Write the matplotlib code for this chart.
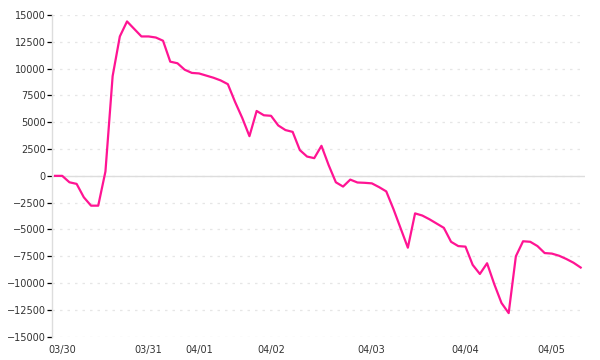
"""Line chart of a running value from 03/30 to 04/05."""

import matplotlib

matplotlib.use("Agg")
import matplotlib.pyplot as plt
import matplotlib.transforms as mtransforms
import numpy as np


# Values, one per sample
values = [
    0, 0, -600, -750, -2000, -2780, -2780, 400, 9300, 13000,
    14400, 13700, 13000, 13000, 12900, 12600, 10650, 10500, 9900, 9600,
    9550, 9350, 9150, 8900, 8550, 6900, 5400, 3700, 6050, 5650,
    5600, 4700, 4270, 4100, 2400, 1800, 1650, 2800, 1000, -600,
    -1000, -350, -620, -650, -700, -1050, -1450, -3100, -4900, -6700,
    -3500, -3700, -4050, -4450, -4850, -6150, -6550, -6600, -8300, -9150,
    -8150, -10100, -11850, -12800, -7500, -6100, -6150, -6550, -7200, -7250,
    -7450, -7750, -8100, -8550,
]

# Sample index where each day starts, and its label
day_index = [0, 12, 19, 29, 43, 56, 68]
day_labels = ["03/30", "03/31", "04/01", "04/02", "04/03", "04/04", "04/05"]

y_ticks = list(range(-15000, 15001, 2500))

LINE_COLOR = "#ff1493"
GRID_COLOR = "#e6e6e6"
AXIS_COLOR = "#dddddd"
TEXT_COLOR = "#333333"

fig = plt.figure(figsize=(6, 3.6), dpi=100)
ax = fig.add_axes([52 / 600, 23.3 / 360, 533 / 600, 321.7 / 360])

x = np.arange(len(values))
ax.plot(x, values, color=LINE_COLOR, linewidth=1.6, solid_joinstyle="round")

ax.set_xlim(-0.42, 73.6)
ax.set_ylim(-15000, 15000)

# Dashed horizontal grid, solid zero line
ax.set_yticks(y_ticks)
ax.yaxis.grid(True, color=GRID_COLOR, linestyle=(0, (2, 4)), linewidth=0.9)
ax.axhline(0, color=AXIS_COLOR, linewidth=1.0, zorder=1)
ax.set_axisbelow(True)

for side in ["top", "right", "bottom"]:
    ax.spines[side].set_visible(False)
ax.spines["left"].set_color(AXIS_COLOR)
ax.spines["left"].set_linewidth(1.0)

ax.tick_params(axis="y", length=3.6, width=0.9, color="black", pad=1,
               labelsize=7, labelcolor=TEXT_COLOR)
ax.tick_params(axis="x", length=0, pad=6, labelsize=7, labelcolor=TEXT_COLOR)

ax.set_xticks(day_index)
ax.set_xticklabels(day_labels)

# Day labels sit a little to the right of the first sample of each day
offset = mtransforms.ScaledTranslation(7 / 100, 0, fig.dpi_scale_trans)
for label in ax.get_xticklabels():
    label.set_transform(label.get_transform() + offset)

fig.savefig("out.png", dpi=100)
plt.close(fig)
